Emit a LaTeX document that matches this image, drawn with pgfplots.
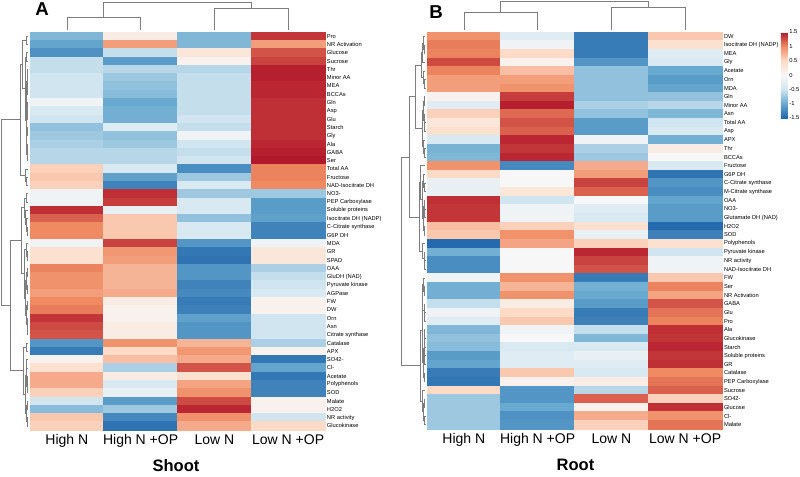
\documentclass[border=0pt]{standalone}
\usepackage{fontspec}
\setmainfont{Liberation Sans}
\usepackage{pgfplots}
\pgfplotsset{compat=1.18}

\definecolor{dgray}{RGB}{125,125,125}
\pgfplotsset{
  colormap={rdbu}{rgb255=(33,102,172) rgb255=(103,169,207) rgb255=(209,229,240)
    rgb255=(247,247,247) rgb255=(253,219,199) rgb255=(239,138,98) rgb255=(178,24,43)},
  hmheat/.style={scale only axis, width=221.25pt, xmin=-0.5, xmax=3.5,
    y dir=reverse, clip=false, axis line style={draw=none},
    major tick length=0pt, minor tick length=0pt,
    xtick={0,1,2,3}, xticklabels={High N, High N +OP, Low N, Low N +OP},
    xticklabel style={font=\fontsize{10.5}{12}\selectfont},
    yticklabel pos=right,
    yticklabel style={font=\fontsize{4.3}{5}\selectfont, inner sep=1.3pt},
    minor xtick={-0.5,0.5,1.5,2.5,3.5},
    xminorgrids, yminorgrids,
    minor grid style={draw=gray!45, line width=0.3pt},
    axis on top, colormap name=rdbu,
    point meta min=-1.5, point meta max=1.5},
  hmrtree/.style={scale only axis, hide axis, clip=false, y dir=reverse,
    x dir=reverse, xmin=0},
  hmctree/.style={scale only axis, hide axis, clip=false,
    xmin=-0.5, xmax=3.5, ymin=0},
  hmcells/.style={scatter, only marks, point meta=explicit, mark=square*,
    scatter/use mapped color={draw=mapped color, fill=mapped color}},
  hmline/.style={draw=dgray, line width=0.45pt, mark=none},
}
% one merge of a dendrogram: y1 h1 y2 h2 h
\newcommand{\dmerge}[5]{\addplot[hmline]
  coordinates {(#2,#1) (#5,#1) (#5,#3) (#4,#3)};}

\begin{document}
\begin{tikzpicture}
\useasboundingbox (0,0) rectangle (600pt,-357pt);

% ---------------- A: shoot ----------------
\begin{axis}[hmheat, at={(22.5pt,-322.5pt)}, anchor=south west,
  height=298.5pt, ymin=0.5, ymax=48.5,
  ytick={1,...,48}, minor ytick={0.5,1.5,...,48.5},
  yticklabels={Pro, NR Activation, Glucose, Sucrose, Thr, Minor AA, MEA, BCCAs,
    Gln, Asp, Glu, Starch, Gly, Ala, GABA, Ser, Total AA, Fructose,
    NAD-Isocitrate DH, NO3-, PEP Carboxylase, Soluble proteins,
    Isocitrate DH (NADP), C-Citrate synthase, G6P DH, MDA, GR, SPAD, OAA,
    GluDH (NAD), Pyruvate kinase, AGPase, FW, DW, Orn, Asn, Citrate synthase,
    Catalase, APX, SO42-, Cl-, Acetate, Polyphenols, SOD, Malate, H2O2,
    NR activity, Glucokinase}]
\addplot[hmcells, mark size=3.11pt, mark options={xscale=8.894}] coordinates {
(0,1)[-0.88] (1,1)[0.2] (2,1)[-0.88] (3,1)[1.37]
(0,2)[-1.03] (1,2)[0.88] (2,2)[-0.88] (3,2)[0.88]
(0,3)[-1.18] (1,3)[-0.56] (2,3)[0.3] (3,3)[1.24]
(0,4)[-0.56] (1,4)[-1.1] (2,4)[0.1] (3,4)[1.31]
(0,5)[-0.56] (1,5)[-0.62] (2,5)[-0.62] (3,5)[1.47]
(0,6)[-0.5] (1,6)[-0.74] (2,6)[-0.56] (3,6)[1.47]
(0,7)[-0.5] (1,7)[-0.8] (2,7)[-0.56] (3,7)[1.44]
(0,8)[-0.5] (1,8)[-0.84] (2,8)[-0.56] (3,8)[1.44]
(0,9)[-0.1] (1,9)[-1.0] (2,9)[-0.56] (3,9)[1.4]
(0,10)[-0.4] (1,10)[-0.95] (2,10)[-0.56] (3,10)[1.4]
(0,11)[-0.5] (1,11)[-0.95] (2,11)[-0.5] (3,11)[1.4]
(0,12)[-0.8] (1,12)[-0.3] (2,12)[-0.56] (3,12)[1.4]
(0,13)[-0.74] (1,13)[-0.8] (2,13)[-0.1] (3,13)[1.4]
(0,14)[-0.68] (1,14)[-0.74] (2,14)[-0.5] (3,14)[1.44]
(0,15)[-0.62] (1,15)[-0.62] (2,15)[-0.56] (3,15)[1.47]
(0,16)[-0.62] (1,16)[-0.62] (2,16)[-0.5] (3,16)[1.5]
(0,17)[0.56] (1,17)[-0.4] (2,17)[-1.21] (3,17)[1.03]
(0,18)[0.62] (1,18)[-1.06] (2,18)[-0.74] (3,18)[1.03]
(0,19)[0.56] (1,19)[-1.28] (2,19)[-0.4] (3,19)[1.0]
(0,20)[-0.1] (1,20)[1.4] (2,20)[-0.74] (3,20)[-0.74]
(0,21)[-0.1] (1,21)[1.34] (2,21)[-0.4] (3,21)[-1.1]
(0,22)[1.4] (1,22)[-0.2] (2,22)[-0.4] (3,22)[-1.1]
(0,23)[1.18] (1,23)[0.62] (2,23)[-0.8] (3,23)[-1.06]
(0,24)[1.0] (1,24)[0.62] (2,24)[-0.4] (3,24)[-1.28]
(0,25)[1.0] (1,25)[0.62] (2,25)[-0.4] (3,25)[-1.28]
(0,26)[-0.1] (1,26)[1.31] (2,26)[-1.14] (3,26)[-0.1]
(0,27)[0.4] (1,27)[0.92] (2,27)[-1.37] (3,27)[0.3]
(0,28)[0.4] (1,28)[0.88] (2,28)[-1.4] (3,28)[0.3]
(0,29)[1.03] (1,29)[0.74] (2,29)[-1.14] (3,29)[-0.68]
(0,30)[0.95] (1,30)[0.74] (2,30)[-1.14] (3,30)[-0.56]
(0,31)[0.95] (1,31)[0.74] (2,31)[-1.28] (3,31)[-0.5]
(0,32)[0.88] (1,32)[0.8] (2,32)[-1.24] (3,32)[-0.4]
(0,33)[1.0] (1,33)[0.2] (2,33)[-1.34] (3,33)[0.1]
(0,34)[1.06] (1,34)[0.1] (2,34)[-1.31] (3,34)[0.1]
(0,35)[1.37] (1,35)[0.1] (2,35)[-1.06] (3,35)[-0.5]
(0,36)[1.28] (1,36)[0.2] (2,36)[-1.14] (3,36)[-0.5]
(0,37)[1.24] (1,37)[0.2] (2,37)[-1.14] (3,37)[-0.5]
(0,38)[-1.14] (1,38)[0.95] (2,38)[0.74] (3,38)[-0.68]
(0,39)[-1.34] (1,39)[0.5] (2,39)[0.92] (3,39)[0.1]
(0,40)[0.1] (1,40)[0.68] (2,40)[0.8] (3,40)[-1.37]
(0,41)[0.4] (1,41)[-0.68] (2,41)[1.24] (3,41)[-1.03]
(0,42)[0.8] (1,42)[0.2] (2,42)[0.4] (3,42)[-1.37]
(0,43)[0.8] (1,43)[-0.4] (2,43)[0.84] (3,43)[-1.28]
(0,44)[0.56] (1,44)[-0.2] (2,44)[0.95] (3,44)[-1.28]
(0,45)[-0.5] (1,45)[-1.1] (2,45)[1.28] (3,45)[0.1]
(0,46)[-0.84] (1,46)[-0.74] (2,46)[1.44] (3,46)[0.1]
(0,47)[0.62] (1,47)[-1.24] (2,47)[0.95] (3,47)[-0.5]
(0,48)[0.56] (1,48)[-1.4] (2,48)[0.8] (3,48)[0.5]
};
\end{axis}

% row tree A
\begin{axis}[hmrtree, at={(0.75pt,-322.5pt)}, anchor=south west,
  width=20.25pt, height=298.5pt, xmax=27, ymin=0.5, ymax=48.5]
\dmerge{1}{0}{2}{0}{2}
\dmerge{3}{0}{4}{0}{2}
\dmerge{5}{0}{6}{0}{0.5}
\dmerge{7}{0}{8}{0}{0.5}
\dmerge{9}{0}{10}{0}{0.5}
\dmerge{9.5}{0.5}{11}{0}{0.8}
\dmerge{12}{0}{13}{0}{0.6}
\dmerge{14}{0}{15}{0}{0.5}
\dmerge{14.5}{0.5}{16}{0}{0.7}
\dmerge{5.5}{0.5}{7.5}{0.5}{1}
\dmerge{6.5}{1}{10.25}{0.8}{1.3}
\dmerge{12.5}{0.6}{15.25}{0.7}{1.2}
\dmerge{8.375}{1.3}{13.875}{1.2}{1.8}
\dmerge{3.5}{2}{11.125}{1.8}{3}
\dmerge{1.5}{2}{7.31}{3}{6}
\dmerge{18}{0}{19}{0}{1.5}
\dmerge{17}{0}{18.5}{1.5}{2.5}
\dmerge{4.41}{6}{17.75}{2.5}{8}
\dmerge{20}{0}{21}{0}{2}
\dmerge{24}{0}{25}{0}{0.5}
\dmerge{23}{0}{24.5}{0.5}{1.5}
\dmerge{22}{0}{23.75}{1.5}{2.5}
\dmerge{20.5}{2}{22.875}{2.5}{4}
\dmerge{27}{0}{28}{0}{0.5}
\dmerge{26}{0}{27.5}{0.5}{2}
\dmerge{29}{0}{30}{0}{0.8}
\dmerge{31}{0}{32}{0}{0.8}
\dmerge{29.5}{0.8}{31.5}{0.8}{1.2}
\dmerge{33}{0}{34}{0}{1}
\dmerge{36}{0}{37}{0}{0.5}
\dmerge{35}{0}{36.5}{0.5}{1}
\dmerge{33.5}{1}{35.75}{1}{1.8}
\dmerge{30.5}{1.2}{34.625}{1.8}{2.5}
\dmerge{26.75}{2}{32.56}{2.5}{3.5}
\dmerge{21.69}{4}{29.66}{3.5}{7}
\dmerge{38}{0}{39}{0}{1.5}
\dmerge{40}{0}{41}{0}{1.2}
\dmerge{42}{0}{43}{0}{0.6}
\dmerge{42.5}{0.6}{44}{0}{1}
\dmerge{40.5}{1.2}{43.25}{1}{1.5}
\dmerge{45}{0}{46}{0}{1}
\dmerge{47}{0}{48}{0}{1}
\dmerge{45.5}{1}{47.5}{1}{2}
\dmerge{41.875}{1.5}{46.5}{2}{3}
\dmerge{38.5}{1.5}{44.19}{3}{5}
\dmerge{25.67}{7}{41.34}{5}{18}
\dmerge{11.08}{8}{33.5}{18}{27}
\end{axis}

% column tree A
\begin{axis}[hmctree, at={(22.5pt,-24pt)}, anchor=south west,
  width=221.25pt, height=22.5pt, ymax=30]
\addplot[hmline] coordinates {(0,2) (0,15) (1,15) (1,2)};
\addplot[hmline] coordinates {(2,2) (2,24) (3,24) (3,2)};
\addplot[hmline] coordinates {(0.5,15) (0.5,30) (2.5,30) (2.5,24)};
\end{axis}

% ---------------- B: root ----------------
\begin{axis}[hmheat, at={(320.25pt,-321.75pt)}, anchor=south west,
  height=297.75pt, ymin=0.5, ymax=46.5,
  ytick={1,...,46}, minor ytick={0.5,1.5,...,46.5},
  yticklabels={DW, Isocitrate DH (NADP), MEA, Gly, Acetate, Orn, MDA, Gln,
    Minor AA, Asn, Total AA, Asp, APX, Thr, BCCAs, Fructose, G6P DH,
    C-Citrate synthase, M-Citrate synthase, OAA, NO3-, Glutamate DH (NAD),
    H2O2, SOD, Polyphenols, Pyruvate kinase, NR activity, NAD-Isocitrate DH,
    FW, Ser, NR Activation, GABA, Glu, Pro, Ala, Glucokinase, Starch,
    Soluble proteins, GR, Catalase, PEP Carboxylase, Sucrose, SO42-,
    Glucose, Cl-, Malate},
  colorbar,
  colorbar style={at={(parent axis.north east)}, anchor=north west,
    xshift=35.7pt, width=5.25pt, height=64.5pt,
    ytick={-1.5,-1,...,1.5}, yticklabel pos=right,
    axis line style={draw=none}, major tick length=0pt,
    yticklabel style={font=\fontsize{4.35}{5}\selectfont, inner sep=0.8pt,
      /pgf/number format/assume math mode=true}}]
\addplot[hmcells, mark size=3.236pt, mark options={xscale=8.545}] coordinates {
(0,1)[0.95] (1,1)[-0.3] (2,1)[-1.34] (3,1)[0.62]
(0,2)[1.06] (1,2)[-0.1] (2,2)[-1.34] (3,2)[0.4]
(0,3)[1.03] (1,3)[0.5] (2,3)[-1.34] (3,3)[-0.3]
(0,4)[1.28] (1,4)[0.1] (2,4)[-1.14] (3,4)[-0.4]
(0,5)[1.03] (1,5)[0.68] (2,5)[-0.8] (3,5)[-1.0]
(0,6)[0.88] (1,6)[0.88] (2,6)[-0.8] (3,6)[-1.1]
(0,7)[0.88] (1,7)[0.95] (2,7)[-0.8] (3,7)[-1.03]
(0,8)[0.1] (1,8)[1.34] (2,8)[-0.8] (3,8)[-0.8]
(0,9)[-0.3] (1,9)[1.47] (2,9)[-0.68] (3,9)[-0.62]
(0,10)[0.56] (1,10)[1.14] (2,10)[-0.8] (3,10)[-0.88]
(0,11)[0.3] (1,11)[1.24] (2,11)[-1.1] (3,11)[-0.5]
(0,12)[0.4] (1,12)[1.18] (2,12)[-1.1] (3,12)[-0.4]
(0,13)[-0.4] (1,13)[1.44] (2,13)[-0.1] (3,13)[-0.95]
(0,14)[-0.92] (1,14)[1.37] (2,14)[-0.68] (3,14)[0.2]
(0,15)[-0.88] (1,15)[1.44] (2,15)[-0.74] (3,15)[0.0]
(0,16)[0.95] (1,16)[-1.24] (2,16)[0.8] (3,16)[-0.4]
(0,17)[0.5] (1,17)[0.0] (2,17)[0.88] (3,17)[-1.4]
(0,18)[-0.2] (1,18)[0.0] (2,18)[1.31] (3,18)[-1.14]
(0,19)[-0.2] (1,19)[0.3] (2,19)[1.18] (3,19)[-1.21]
(0,20)[1.4] (1,20)[-0.5] (2,20)[0.0] (3,20)[-1.03]
(0,21)[1.37] (1,21)[-0.1] (2,21)[-0.3] (3,21)[-1.1]
(0,22)[1.37] (1,22)[-0.1] (2,22)[-0.4] (3,22)[-1.1]
(0,23)[0.68] (1,23)[0.56] (2,23)[0.4] (3,23)[-1.47]
(0,24)[0.62] (1,24)[0.95] (2,24)[-0.2] (3,24)[-1.31]
(0,25)[-1.47] (1,25)[0.84] (2,25)[0.56] (3,25)[0.4]
(0,26)[-0.95] (1,26)[0.0] (2,26)[1.44] (3,26)[-0.5]
(0,27)[-1.21] (1,27)[0.0] (2,27)[1.31] (3,27)[-0.1]
(0,28)[-1.21] (1,28)[0.0] (2,28)[1.24] (3,28)[-0.1]
(0,29)[-0.1] (1,29)[0.95] (2,29)[-1.34] (3,29)[0.62]
(0,30)[-0.95] (1,30)[0.74] (2,30)[-0.95] (3,30)[1.03]
(0,31)[-0.95] (1,31)[0.95] (2,31)[-1.0] (3,31)[0.84]
(0,32)[-0.56] (1,32)[0.2] (2,32)[-1.1] (3,32)[1.24]
(0,33)[-0.1] (1,33)[0.5] (2,33)[-1.34] (3,33)[1.1]
(0,34)[-0.3] (1,34)[0.62] (2,34)[-1.31] (3,34)[1.03]
(0,35)[-0.88] (1,35)[-0.1] (2,35)[-0.56] (3,35)[1.4]
(0,36)[-0.8] (1,36)[0.0] (2,36)[-0.88] (3,36)[1.37]
(0,37)[-0.84] (1,37)[-0.4] (2,37)[-0.4] (3,37)[1.44]
(0,38)[-1.1] (1,38)[-0.3] (2,38)[-0.2] (3,38)[1.37]
(0,39)[-1.03] (1,39)[-0.3] (2,39)[-0.3] (3,39)[1.4]
(0,40)[-1.34] (1,40)[0.62] (2,40)[-0.4] (3,40)[1.0]
(0,41)[-1.37] (1,41)[0.1] (2,41)[0.2] (3,41)[1.1]
(0,42)[0.5] (1,42)[-1.14] (2,42)[-0.62] (3,42)[1.18]
(0,43)[-0.74] (1,43)[-1.14] (2,43)[1.18] (3,43)[0.56]
(0,44)[-0.74] (1,44)[-1.0] (2,44)[0.1] (3,44)[1.4]
(0,45)[-0.74] (1,45)[-1.18] (2,45)[0.8] (3,45)[0.95]
(0,46)[-0.74] (1,46)[-1.14] (2,46)[0.56] (3,46)[1.1]
};
\end{axis}

% row tree B
\begin{axis}[hmrtree, at={(300.75pt,-321.75pt)}, anchor=south west,
  width=18pt, height=297.75pt, xmax=24, ymin=0.5, ymax=46.5]
\dmerge{2}{0}{3}{0}{1}
\dmerge{1}{0}{2.5}{1}{1.5}
\dmerge{1.75}{1.5}{4}{0}{2.5}
\dmerge{6}{0}{7}{0}{0.5}
\dmerge{5}{0}{6.5}{0.5}{1.5}
\dmerge{2.875}{2.5}{5.75}{1.5}{4}
\dmerge{8}{0}{9}{0}{1}
\dmerge{11}{0}{12}{0}{0.5}
\dmerge{10}{0}{11.5}{0.5}{1}
\dmerge{8.5}{1}{10.75}{1}{1.8}
\dmerge{14}{0}{15}{0}{0.5}
\dmerge{13}{0}{14.5}{0.5}{1.5}
\dmerge{9.625}{1.8}{13.75}{1.5}{3}
\dmerge{4.31}{4}{11.69}{3}{10}
\dmerge{18}{0}{19}{0}{0.5}
\dmerge{17}{0}{18.5}{0.5}{1.5}
\dmerge{21}{0}{22}{0}{0.3}
\dmerge{20}{0}{21.5}{0.3}{1}
\dmerge{23}{0}{24}{0}{1}
\dmerge{20.75}{1}{23.5}{1}{2}
\dmerge{17.75}{1.5}{22.125}{2}{3}
\dmerge{16}{0}{19.94}{3}{4.5}
\dmerge{27}{0}{28}{0}{0.3}
\dmerge{26}{0}{27.5}{0.3}{1}
\dmerge{25}{0}{26.75}{1}{3}
\dmerge{17.97}{4.5}{25.875}{3}{6}
\dmerge{8.0}{10}{21.92}{6}{16}
\dmerge{30}{0}{31}{0}{0.8}
\dmerge{29}{0}{30.5}{0.8}{1.5}
\dmerge{33}{0}{34}{0}{0.5}
\dmerge{32}{0}{33.5}{0.5}{1}
\dmerge{29.75}{1.5}{32.75}{1}{2.5}
\dmerge{36}{0}{37}{0}{0.5}
\dmerge{35}{0}{36.5}{0.5}{0.8}
\dmerge{38}{0}{39}{0}{0.5}
\dmerge{35.75}{0.8}{38.5}{0.5}{1.2}
\dmerge{40}{0}{41}{0}{0.8}
\dmerge{37.125}{1.2}{40.5}{0.8}{1.8}
\dmerge{31.25}{2.5}{38.81}{1.8}{3}
\dmerge{43}{0}{44}{0}{1}
\dmerge{45}{0}{46}{0}{0.5}
\dmerge{43.5}{1}{45.5}{0.5}{1.5}
\dmerge{42}{0}{44.5}{1.5}{2.5}
\dmerge{35.03}{3}{43.25}{2.5}{5}
\dmerge{14.96}{16}{39.14}{5}{24}
\end{axis}

% column tree B
\begin{axis}[hmctree, at={(320.25pt,-24pt)}, anchor=south west,
  width=221.25pt, height=23.25pt, ymax=31]
\addplot[hmline] coordinates {(0,2) (0,20) (1,20) (1,2)};
\addplot[hmline] coordinates {(2,2) (2,25) (3,25) (3,2)};
\addplot[hmline] coordinates {(0.5,20) (0.5,31) (2.5,31) (2.5,25)};
\end{axis}

\node[font=\bfseries\fontsize{12.4}{14}\selectfont] at (132pt,-349pt) {Shoot};
\node[font=\bfseries\fontsize{12.4}{14}\selectfont] at (431.6pt,-349pt) {Root};
\node[font=\bfseries\fontsize{14}{16}\selectfont] at (31.5pt,-6.75pt) {A};
\node[font=\bfseries\fontsize{14}{16}\selectfont] at (327pt,-9pt) {B};
\end{tikzpicture}
\end{document}
